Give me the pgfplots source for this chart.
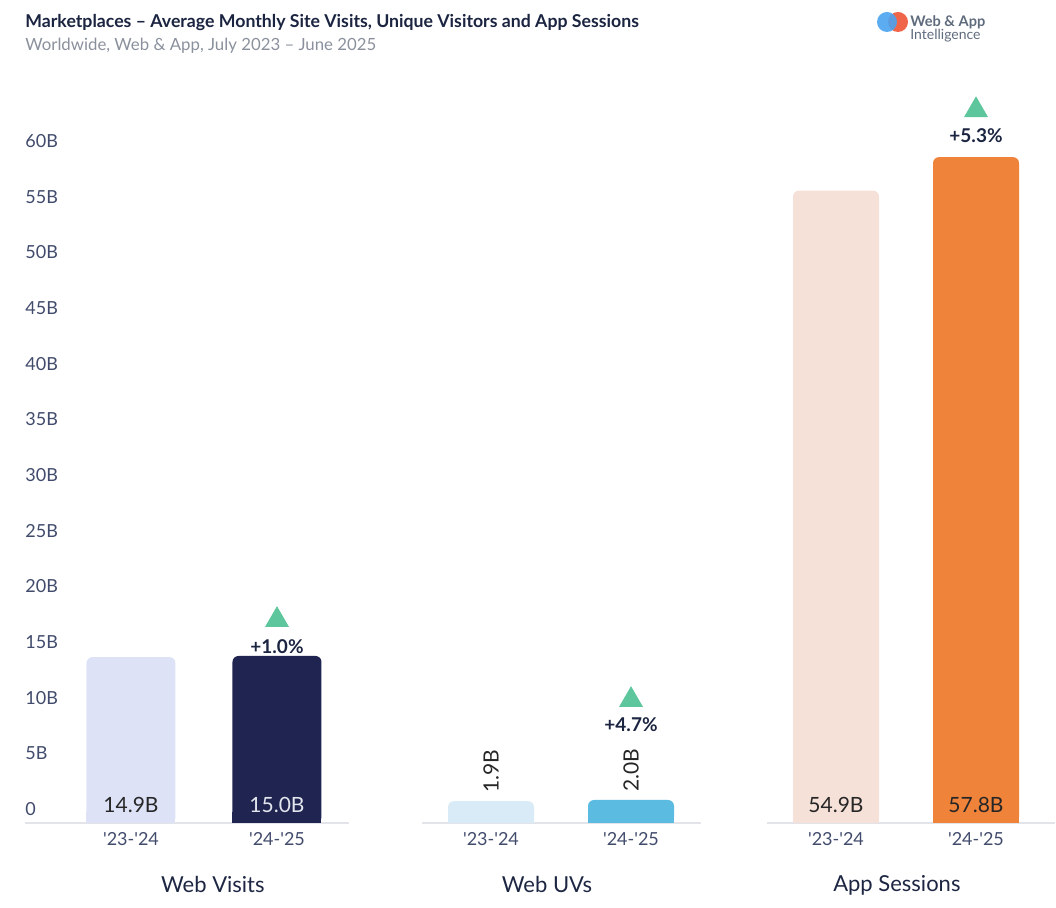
\documentclass[border=0pt]{standalone}
\usepackage{pgfplots}
\pgfplotsset{compat=1.18}
\usepackage{fontspec}
\newfontfamily\lato{Lato}
\definecolor{titlecol}{HTML}{1B2440}
\definecolor{subcol}{HTML}{8A909C}
\definecolor{tickcol}{HTML}{414B6C}
\definecolor{labelcol}{HTML}{1D2642}
\definecolor{linegray}{HTML}{E3E4E9}
\definecolor{wv1}{HTML}{DDE2F7}
\definecolor{wv2}{HTML}{1F2550}
\definecolor{uv1}{HTML}{D8EBF6}
\definecolor{uv2}{HTML}{5BBBE0}
\definecolor{as1}{HTML}{F5E1D7}
\definecolor{as2}{HTML}{EF833A}
\definecolor{gup}{HTML}{5DC69C}
\definecolor{valdark}{HTML}{262626}
\definecolor{vallight}{HTML}{E4E6EE}
\definecolor{logogray}{HTML}{5F6B7D}
\definecolor{logoblue}{HTML}{4AA3F0}
\definecolor{logored}{HTML}{F0654A}
\pgfplotsset{
  panel/.style={
    /pgf/number format/assume math mode=true,
    axis x line*=bottom, axis y line*=left,
    y axis line style={draw=none},
    x axis line style={draw=linegray, line width=0.7pt, -},
    major tick length=0pt,
    anchor=south west,
    ymin=0, clip=false,
    xtick={0,1}, xticklabels={'23-'24,'24-'25},
    xticklabel style={font=\lato\fontsize{9}{10}\selectfont, text=tickcol, inner sep=0pt, anchor=north, yshift=-4.5pt},
    xlabel style={font=\lato\fontsize{11}{12}\selectfont, text=labelcol, anchor=center, inner sep=0pt},
    ytick=\empty,
  },
  mainbar/.style={ybar, bar shift=0pt, draw=none, fill=#1, rounded corners=3pt},
  basebar/.style={ybar, bar shift=0pt, draw=none, fill=#1, forget plot},
  vallab/.style={draw=none, mark=none, nodes near coords, point meta=explicit symbolic,
    nodes near coords style={anchor=south, inner sep=0pt, yshift=5pt, font=\lato\fontsize{10.5}{12}\selectfont, text=#1}},
  uptri/.style={only marks, mark=triangle*, mark size=6.5pt, mark options={fill=gup, draw=gup, yshift=#1}},
  growth/.style={draw=none, mark=none, nodes near coords, point meta=explicit symbolic,
    nodes near coords style={anchor=center, inner sep=0pt, yshift=#1, font=\lato\bfseries\fontsize{9.5}{11}\selectfont, text=titlecol}},
}
\begin{document}
\lato
\begin{tikzpicture}
\useasboundingbox (0pt,0pt) rectangle (528pt,454pt);
% title and subtitle
\node[anchor=west, inner sep=0pt, font=\lato\bfseries\fontsize{8.85}{10}\selectfont, text=titlecol] at (12.5pt,442.5pt) {Marketplaces – Average Monthly Site Visits, Unique Visitors and App Sessions};
\node[anchor=west, inner sep=0pt, font=\lato\fontsize{8.4}{10}\selectfont, text=subcol] at (12.5pt,431pt) {Worldwide, Web \& App, July 2023 – June 2025};
% logo
\fill[logored] (449pt,443pt) circle (5pt);
\fill[logoblue, opacity=0.9] (443.5pt,443pt) circle (5pt);
\node[anchor=west, inner sep=0pt, font=\lato\bfseries\fontsize{7.3}{8}\selectfont, text=logogray] at (455pt,443pt) {Web \& App};
\node[anchor=west, inner sep=0pt, font=\lato\fontsize{7}{8}\selectfont, text=logogray] at (455pt,436pt) {Intelligence};

% Panel 1: Web Visits
\begin{axis}[panel, at={(12.5pt,42.5pt)}, x=73pt, y=5.567pt,
  xmin=-0.726, xmax=1.493, ymax=62,
  ytick={0,5,...,60},
  yticklabels={0,5B,10B,15B,20B,25B,30B,35B,40B,45B,50B,55B,60B},
  yticklabel style={anchor=south west, inner sep=0pt, yshift=3.5pt, font=\lato\fontsize{9}{10}\selectfont, text=tickcol},
  xlabel={Web Visits},
  xlabel style={at={(axis description cs:0.58,0)}, yshift=-31pt},
  bar width=44.5pt]
\addplot[mainbar=wv1] coordinates {(0,14.9)};
\addplot[basebar=wv1] coordinates {(0,1)};
\addplot[mainbar=wv2] coordinates {(1,15.0)};
\addplot[basebar=wv2] coordinates {(1,1)};
\addplot[vallab=valdark] coordinates {(0,0) [14.9B]};
\addplot[vallab=vallight] coordinates {(1,0) [15.0B]};
\addplot[uptri=18pt] coordinates {(1,15.0)};
\addplot[growth=4.5pt] coordinates {(1,15.0) [+1.0\%]};
\end{axis}

% Panel 2: Web UVs
\begin{axis}[panel, at={(211pt,42.5pt)}, x=70pt, y=5.75pt,
  xmin=-0.493, xmax=1.5, ymax=62,
  xlabel={Web UVs},
  xlabel style={at={(axis description cs:0.448,0)}, yshift=-31pt},
  bar width=43pt]
\addplot[mainbar=uv1, nodes near coords={\pgfmathprintnumber[fixed,precision=1,fixed zerofill]{\pgfplotspointmeta}B},
  nodes near coords style={rotate=90, anchor=west, inner xsep=4pt, inner ysep=0pt, font=\lato\fontsize{10.5}{12}\selectfont, text=valdark}] coordinates {(0,1.9)};
\addplot[basebar=uv1] coordinates {(0,0.6)};
\addplot[mainbar=uv2, nodes near coords={\pgfmathprintnumber[fixed,precision=1,fixed zerofill]{\pgfplotspointmeta}B},
  nodes near coords style={rotate=90, anchor=west, inner xsep=4pt, inner ysep=0pt, font=\lato\fontsize{10.5}{12}\selectfont, text=valdark}] coordinates {(1,2.0)};
\addplot[basebar=uv2] coordinates {(1,0.6)};
\addplot[uptri=50pt] coordinates {(1,2.0)};
\addplot[growth=37.5pt] coordinates {(1,2.0) [+4.7\%]};
\end{axis}

% Panel 3: App Sessions
\begin{axis}[panel, at={(383.5pt,42.5pt)}, x=70pt, y=5.76pt,
  xmin=-0.493, xmax=1.564, ymax=62,
  xlabel={App Sessions},
  xlabel style={at={(axis description cs:0.451,0)}, yshift=-31pt},
  bar width=43pt]
\addplot[mainbar=as1] coordinates {(0,54.9)};
\addplot[basebar=as1] coordinates {(0,1)};
\addplot[mainbar=as2] coordinates {(1,57.8)};
\addplot[basebar=as2] coordinates {(1,1)};
\addplot[vallab=valdark] coordinates {(0,0) [54.9B]};
\addplot[vallab=valdark] coordinates {(1,0) [57.8B]};
\addplot[uptri=23.5pt] coordinates {(1,57.8)};
\addplot[growth=10.5pt] coordinates {(1,57.8) [+5.3\%]};
\end{axis}
\end{tikzpicture}
\end{document}
